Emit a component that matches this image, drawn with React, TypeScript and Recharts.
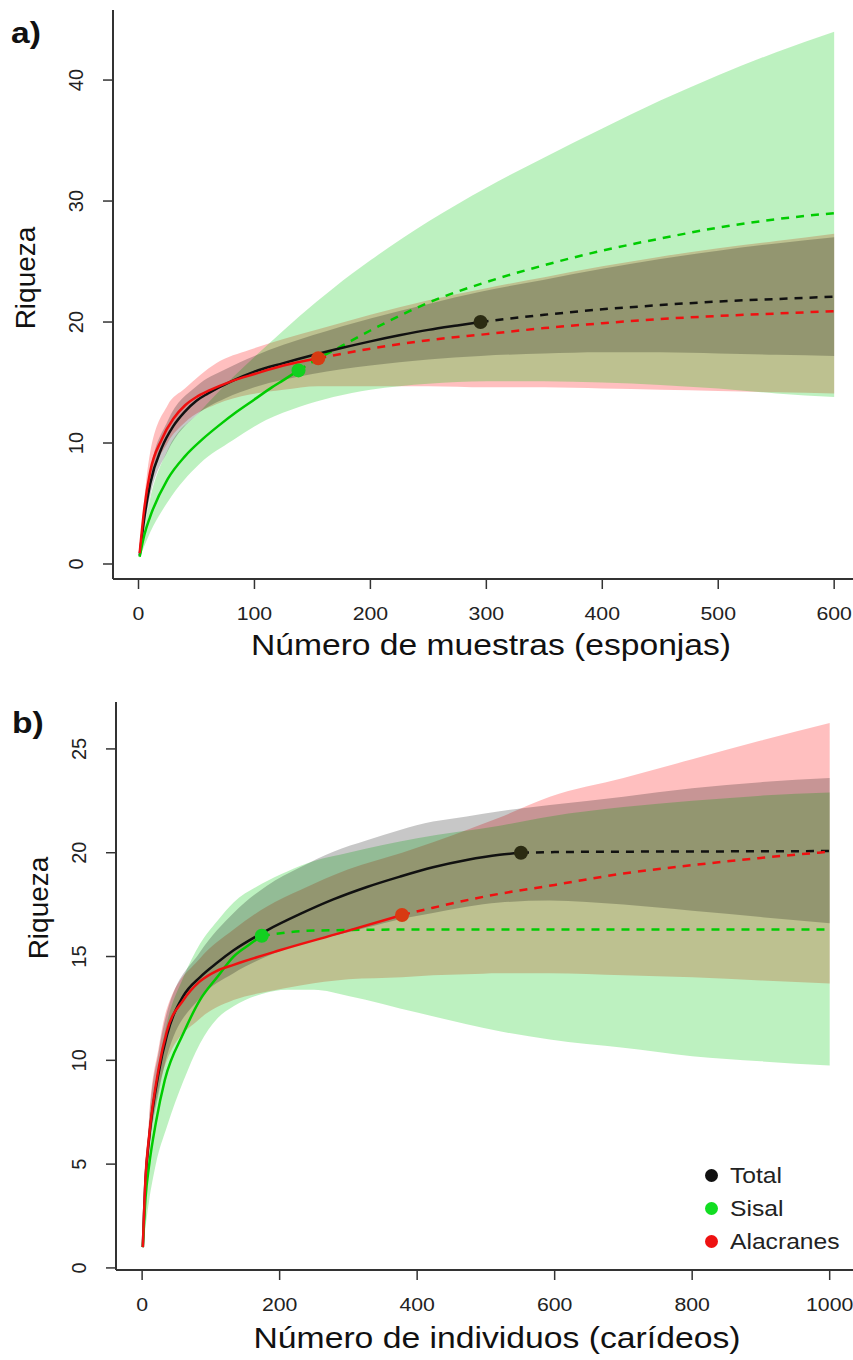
import React from 'react';
import { ComposedChart, Line, Area, Scatter, XAxis, YAxis } from 'recharts';

const FONT = '"Liberation Sans", Arial, Helvetica, sans-serif';

// ---------- Panel a) : Número de muestras (esponjas) ----------
const aXTicks = [0, 100, 200, 300, 400, 500, 600];
const aYTicks = [0, 10, 20, 30, 40];

const aTotalObs = [[1, 0.7], [5, 3.8], [10, 6.6], [20, 9.6], [30, 11.4], [40, 12.6], [50, 13.5], [60, 14.1], [80, 15.1], [100, 15.9], [125, 16.6], [150, 17.25], [175, 17.85], [200, 18.4], [225, 18.9], [250, 19.35], [275, 19.72], [295, 20.0]];
const aTotalExt = [[295, 20.0], [350, 20.6], [400, 21.05], [450, 21.4], [500, 21.7], [550, 21.9], [600, 22.1]];
const aSisalObs = [[1, 0.6], [5, 2.4], [10, 3.9], [25, 7.0], [40, 8.9], [55, 10.3], [70, 11.5], [85, 12.6], [100, 13.6], [115, 14.6], [125, 15.2], [138, 16.0]];
const aSisalExt = [[138, 16.0], [150, 16.7], [175, 18.0], [200, 19.3], [225, 20.5], [250, 21.6], [300, 23.3], [350, 24.7], [400, 25.9], [450, 26.9], [500, 27.8], [550, 28.5], [600, 29.0]];
const aAlacObs = [[1, 0.9], [5, 4.6], [10, 7.6], [20, 10.3], [30, 12.0], [40, 13.1], [50, 13.8], [60, 14.3], [80, 15.1], [100, 15.7], [125, 16.4], [155, 17.0]];
const aAlacExt = [[155, 17.0], [200, 17.8], [250, 18.5], [300, 19.0], [350, 19.5], [400, 19.9], [450, 20.25], [500, 20.5], [550, 20.7], [600, 20.9]];

// [x, lower, upper]
const aTotalBand = [[1, 0.5, 0.9], [10, 5.6, 7.6], [25, 9.3, 11.8], [50, 12.3, 14.7], [75, 13.7, 16.1], [100, 14.6, 17.2], [150, 15.7, 18.9], [200, 16.4, 20.3], [250, 16.9, 21.5], [295, 17.2, 22.5], [350, 17.4, 23.5], [400, 17.5, 24.4], [450, 17.5, 25.2], [500, 17.4, 25.9], [550, 17.3, 26.5], [600, 17.2, 27.0]];
const aAlacBand = [[1, 0.6, 1.3], [10, 6.4, 9.2], [25, 10.0, 13.1], [40, 11.7, 14.5], [67, 13.2, 16.6], [96, 14.0, 17.7], [125, 14.4, 18.6], [155, 14.7, 19.4], [200, 14.7, 20.6], [250, 14.7, 21.8], [300, 14.6, 22.8], [350, 14.6, 23.7], [400, 14.5, 24.6], [450, 14.4, 25.4], [500, 14.3, 26.1], [550, 14.2, 26.7], [600, 14.1, 27.3]];
const aSisalBand = [[1, 0.5, 0.8], [10, 2.6, 5.4], [25, 5.1, 9.4], [53, 8.3, 12.6], [81, 10.2, 15.4], [110, 11.9, 18.0], [139, 13.0, 20.5], [168, 13.8, 22.8], [200, 14.4, 25.1], [250, 14.9, 28.3], [300, 15.1, 31.1], [350, 15.1, 33.6], [400, 15.0, 36.0], [450, 14.8, 38.3], [500, 14.5, 40.4], [550, 14.1, 42.3], [600, 13.8, 44.0]];

const aTotalPoint = [[295, 20.0]];
const aSisalPoint = [[138, 16.0]];
const aAlacPoint = [[155, 17.0]];

// ---------- Panel b) : Número de individuos (carídeos) ----------
const bXTicks = [0, 200, 400, 600, 800, 1000];
const bYTicks = [0, 5, 10, 15, 20, 25];

const bTotalObs = [[1, 1.0], [5, 4.3], [10, 6.2], [24, 9.4], [36, 11.2], [60, 13.1], [84, 14.0], [109, 14.7], [133, 15.3], [181, 16.25], [230, 17.05], [278, 17.75], [327, 18.35], [375, 18.85], [423, 19.3], [472, 19.65], [520, 19.9], [551, 20.0]];
const bTotalExt = [[551, 20.0], [600, 20.03], [700, 20.05], [800, 20.06], [900, 20.07], [1000, 20.08]];
const bSisalObs = [[1, 1.0], [5, 3.4], [10, 4.9], [20, 7.0], [33, 9.05], [60, 11.3], [84, 12.9], [109, 14.0], [133, 15.0], [157, 15.6], [174, 16.0]];
const bSisalExt = [[174, 16.0], [250, 16.25], [400, 16.3], [600, 16.3], [800, 16.3], [1000, 16.3]];
const bAlacObs = [[1, 1.0], [5, 4.4], [10, 6.3], [24, 9.6], [36, 11.4], [60, 12.9], [84, 13.8], [108, 14.3], [133, 14.6], [200, 15.3], [290, 16.15], [378, 17.0]];
const bAlacExt = [[378, 17.0], [423, 17.35], [500, 17.9], [600, 18.45], [700, 19.0], [800, 19.4], [900, 19.75], [1000, 20.05]];

const bTotalBand = [[1, 0.9, 1.1], [10, 5.4, 7.0], [24, 8.4, 10.4], [36, 10.2, 12.3], [84, 13.0, 15.2], [133, 14.2, 17.1], [181, 15.0, 18.4], [230, 15.6, 19.3], [278, 16.0, 20.05], [327, 16.4, 20.6], [375, 16.8, 21.1], [423, 17.1, 21.5], [472, 17.4, 21.75], [520, 17.6, 22.0], [593, 17.7, 22.3], [700, 17.5, 22.7], [800, 17.2, 23.1], [900, 16.9, 23.4], [1000, 16.6, 23.6]];
const bAlacBand = [[1, 0.9, 1.1], [10, 5.5, 7.2], [24, 8.6, 10.6], [36, 10.0, 12.5], [84, 12.0, 14.9], [133, 12.9, 16.3], [181, 13.3, 17.4], [230, 13.6, 18.2], [300, 13.9, 19.2], [378, 14.0, 20.0], [423, 14.1, 20.5], [472, 14.15, 21.1], [520, 14.2, 21.7], [593, 14.2, 22.7], [700, 14.1, 23.6], [800, 14.0, 24.5], [900, 13.85, 25.4], [1000, 13.7, 26.25]];
const bSisalBand = [[1, 0.9, 1.1], [10, 3.2, 6.6], [20, 5.0, 9.0], [36, 6.8, 11.8], [60, 9.0, 14.0], [84, 10.8, 15.6], [109, 12.0, 16.7], [133, 12.6, 17.6], [174, 13.2, 18.5], [211, 13.4, 19.1], [250, 13.4, 19.6], [300, 13.1, 20.0], [400, 12.3, 20.7], [520, 11.4, 21.3], [593, 11.0, 21.75], [700, 10.6, 22.2], [800, 10.2, 22.5], [900, 9.95, 22.75], [1000, 9.75, 22.9]];

const bTotalPoint = [[551, 20.0]];
const bSisalPoint = [[174, 16.0]];
const bAlacPoint = [[378, 17.0]];

const legendItems = [
  { name: 'Total', color: '#111111' },
  { name: 'Sisal', color: '#12DD22' },
  { name: 'Alacranes', color: '#EE1111' },
];

// ---------- helpers ----------
const toPts = (arr: number[][]) => arr.map(([x, y]) => ({ x, y }));
const toBand = (arr: number[][]) => arr.map(([x, lo, hi]) => ({ x, r: [lo, hi] }));

const FILL = {
  red: { c: '#FF0000', o: 0.25 },
  green: { c: '#00C80D', o: 0.26 },
  black: { c: '#000000', o: 0.22 },
};
const LINE = { black: '#111111', green: '#00CC00', red: '#F01010' };
const DOT = { black: '#2B2B12', green: '#12D020', red: '#D83A12' };

const XTick = (props: any) => {
  const { x, y, payload } = props;
  return (
    <text transform={`translate(${x},${y + 29}) scale(1.12,1)`} textAnchor="middle" fontSize={19} fontFamily={FONT} fill="#222">
      {payload.value}
    </text>
  );
};

const YTick = (props: any) => {
  const { x, y, payload } = props;
  const bx = x - 18;
  return (
    <text x={bx} y={y} transform={`rotate(-90 ${bx} ${y})`} textAnchor="middle" fontSize={20} fontFamily={FONT} fill="#222">
      {payload.value}
    </text>
  );
};

const XTitle = (props: any) => (
  <text x={props.cx} y={props.by} textAnchor="middle" fontSize={30} fontFamily={FONT} fill="#111" textLength={props.len} lengthAdjust="spacingAndGlyphs">
    {props.text}
  </text>
);

const YTitle = (props: any) => (
  <text x={props.bx} y={props.cy} transform={`rotate(-90 ${props.bx} ${props.cy})`} textAnchor="middle" fontSize={28} fontFamily={FONT} fill="#111">
    Riqueza
  </text>
);

const dotShape = (color: string) => (p: any) => <circle cx={p.cx} cy={p.cy} r={7} fill={color} />;

const LegendBox = () => (
  <div style={{ position: 'absolute', left: 705, top: 1159, fontFamily: FONT }}>
    {legendItems.map((it) => (
      <div key={it.name} style={{ display: 'flex', alignItems: 'center', height: 33 }}>
        <span style={{ display: 'inline-block', width: 13, height: 13, borderRadius: '50%', background: it.color, marginRight: 12 }} />
        <span style={{ fontSize: 22, color: '#222', display: 'inline-block', transform: 'scaleX(1.12)', transformOrigin: 'left center', lineHeight: '33px', whiteSpace: 'nowrap' }}>{it.name}</span>
      </div>
    ))}
  </div>
);

const Panel = (props: any) => {
  const { width, height, margin, yWidth, xDomain, yDomain, xTicks, yTicks, title, titleCx, titleBy, titleLen, yCy, yBx,
    totalObs, totalExt, sisalObs, sisalExt, alacObs, alacExt, totalBand, sisalBand, alacBand, totalPt, sisalPt, alacPt } = props;
  const axisStroke = '#333';
  return (
    <ComposedChart width={width} height={height} margin={margin}>
      <XAxis xAxisId="top" orientation="top" type="number" dataKey="x" domain={xDomain} allowDataOverflow height={0} tick={false} tickLine={false} axisLine={{ stroke: '#555', strokeWidth: 2 }} />
      <XAxis type="number" dataKey="x" domain={xDomain} allowDataOverflow ticks={xTicks} interval={0} height={60}
        tickSize={10} tick={<XTick />} tickLine={{ stroke: axisStroke, strokeWidth: 1.5 }} axisLine={{ stroke: axisStroke, strokeWidth: 2 }}
        label={<XTitle text={title} cx={titleCx} by={titleBy} len={titleLen} />} />
      <YAxis type="number" domain={yDomain} allowDataOverflow ticks={yTicks} interval={0} width={yWidth}
        tickSize={10} tick={<YTick />} tickLine={{ stroke: axisStroke, strokeWidth: 1.5 }} axisLine={{ stroke: axisStroke, strokeWidth: 2 }}
        label={<YTitle cy={yCy} bx={yBx} />} />

      <Area data={toBand(alacBand)} dataKey="r" type="monotone" stroke="none" fill={FILL.red.c} fillOpacity={FILL.red.o} isAnimationActive={false} />
      <Area data={toBand(sisalBand)} dataKey="r" type="monotone" stroke="none" fill={FILL.green.c} fillOpacity={FILL.green.o} isAnimationActive={false} />
      <Area data={toBand(totalBand)} dataKey="r" type="monotone" stroke="none" fill={FILL.black.c} fillOpacity={FILL.black.o} isAnimationActive={false} />

      <Line data={toPts(totalExt)} dataKey="y" type="monotone" stroke={LINE.black} strokeWidth={2.5} strokeDasharray="8 7" dot={false} isAnimationActive={false} />
      <Line data={toPts(sisalExt)} dataKey="y" type="monotone" stroke={LINE.green} strokeWidth={2.5} strokeDasharray="8 7" dot={false} isAnimationActive={false} />
      <Line data={toPts(alacExt)} dataKey="y" type="monotone" stroke={LINE.red} strokeWidth={2.5} strokeDasharray="8 7" dot={false} isAnimationActive={false} />
      <Line data={toPts(totalObs)} dataKey="y" type="monotone" stroke={LINE.black} strokeWidth={2.5} dot={false} isAnimationActive={false} />
      <Line data={toPts(sisalObs)} dataKey="y" type="monotone" stroke={LINE.green} strokeWidth={2.5} dot={false} isAnimationActive={false} />
      <Line data={toPts(alacObs)} dataKey="y" type="monotone" stroke={LINE.red} strokeWidth={2.5} dot={false} isAnimationActive={false} />

      <Scatter data={toPts(totalPt)} dataKey="y" shape={dotShape(DOT.black)} isAnimationActive={false} />
      <Scatter data={toPts(sisalPt)} dataKey="y" shape={dotShape(DOT.green)} isAnimationActive={false} />
      <Scatter data={toPts(alacPt)} dataKey="y" shape={dotShape(DOT.red)} isAnimationActive={false} />
    </ComposedChart>
  );
};

export default function App() {
  return (
    <div style={{ position: 'absolute', left: 0, top: 0, width: 853, height: 1360, overflow: 'hidden', background: '#fff' }}>
      <div style={{ position: 'absolute', left: 0, top: 0 }}>
        <Panel width={880} height={680} margin={{ top: 10, right: 18, bottom: 41, left: 53 }} yWidth={60}
          xDomain={[-22, 624]} yDomain={[-1.24, 45.79]} xTicks={aXTicks} yTicks={aYTicks}
          title="Número de muestras (esponjas)" titleCx={491} titleBy={655} titleLen={480} yCy={278} yBx={35}
          totalObs={aTotalObs} totalExt={aTotalExt} sisalObs={aSisalObs} sisalExt={aSisalExt} alacObs={aAlacObs} alacExt={aAlacExt}
          totalBand={aTotalBand} sisalBand={aSisalBand} alacBand={aAlacBand}
          totalPt={aTotalPoint} sisalPt={aSisalPoint} alacPt={aAlacPoint} />
      </div>
      <div style={{ position: 'absolute', left: 0, top: 680 }}>
        <Panel width={880} height={680} margin={{ top: 22, right: 18, bottom: 30, left: 56 }} yWidth={60}
          xDomain={[-38, 1047]} yDomain={[-0.1, 27.26]} xTicks={bXTicks} yTicks={bYTicks}
          title="Número de individuos (carídeos)" titleCx={497} titleBy={668} titleLen={487} yCy={228} yBx={48}
          totalObs={bTotalObs} totalExt={bTotalExt} sisalObs={bSisalObs} sisalExt={bSisalExt} alacObs={bAlacObs} alacExt={bAlacExt}
          totalBand={bTotalBand} sisalBand={bSisalBand} alacBand={bAlacBand}
          totalPt={bTotalPoint} sisalPt={bSisalPoint} alacPt={bAlacPoint} />
      </div>
      <LegendBox />
      <div style={{ position: 'absolute', left: 11, top: 16, fontFamily: FONT, fontWeight: 'bold', fontSize: 30, lineHeight: '34px', color: '#111', transform: 'scaleX(1.12)', transformOrigin: 'left top' }}>a)</div>
      <div style={{ position: 'absolute', left: 12, top: 706, fontFamily: FONT, fontWeight: 'bold', fontSize: 30, lineHeight: '34px', color: '#111', transform: 'scaleX(1.12)', transformOrigin: 'left top' }}>b)</div>
    </div>
  );
}
